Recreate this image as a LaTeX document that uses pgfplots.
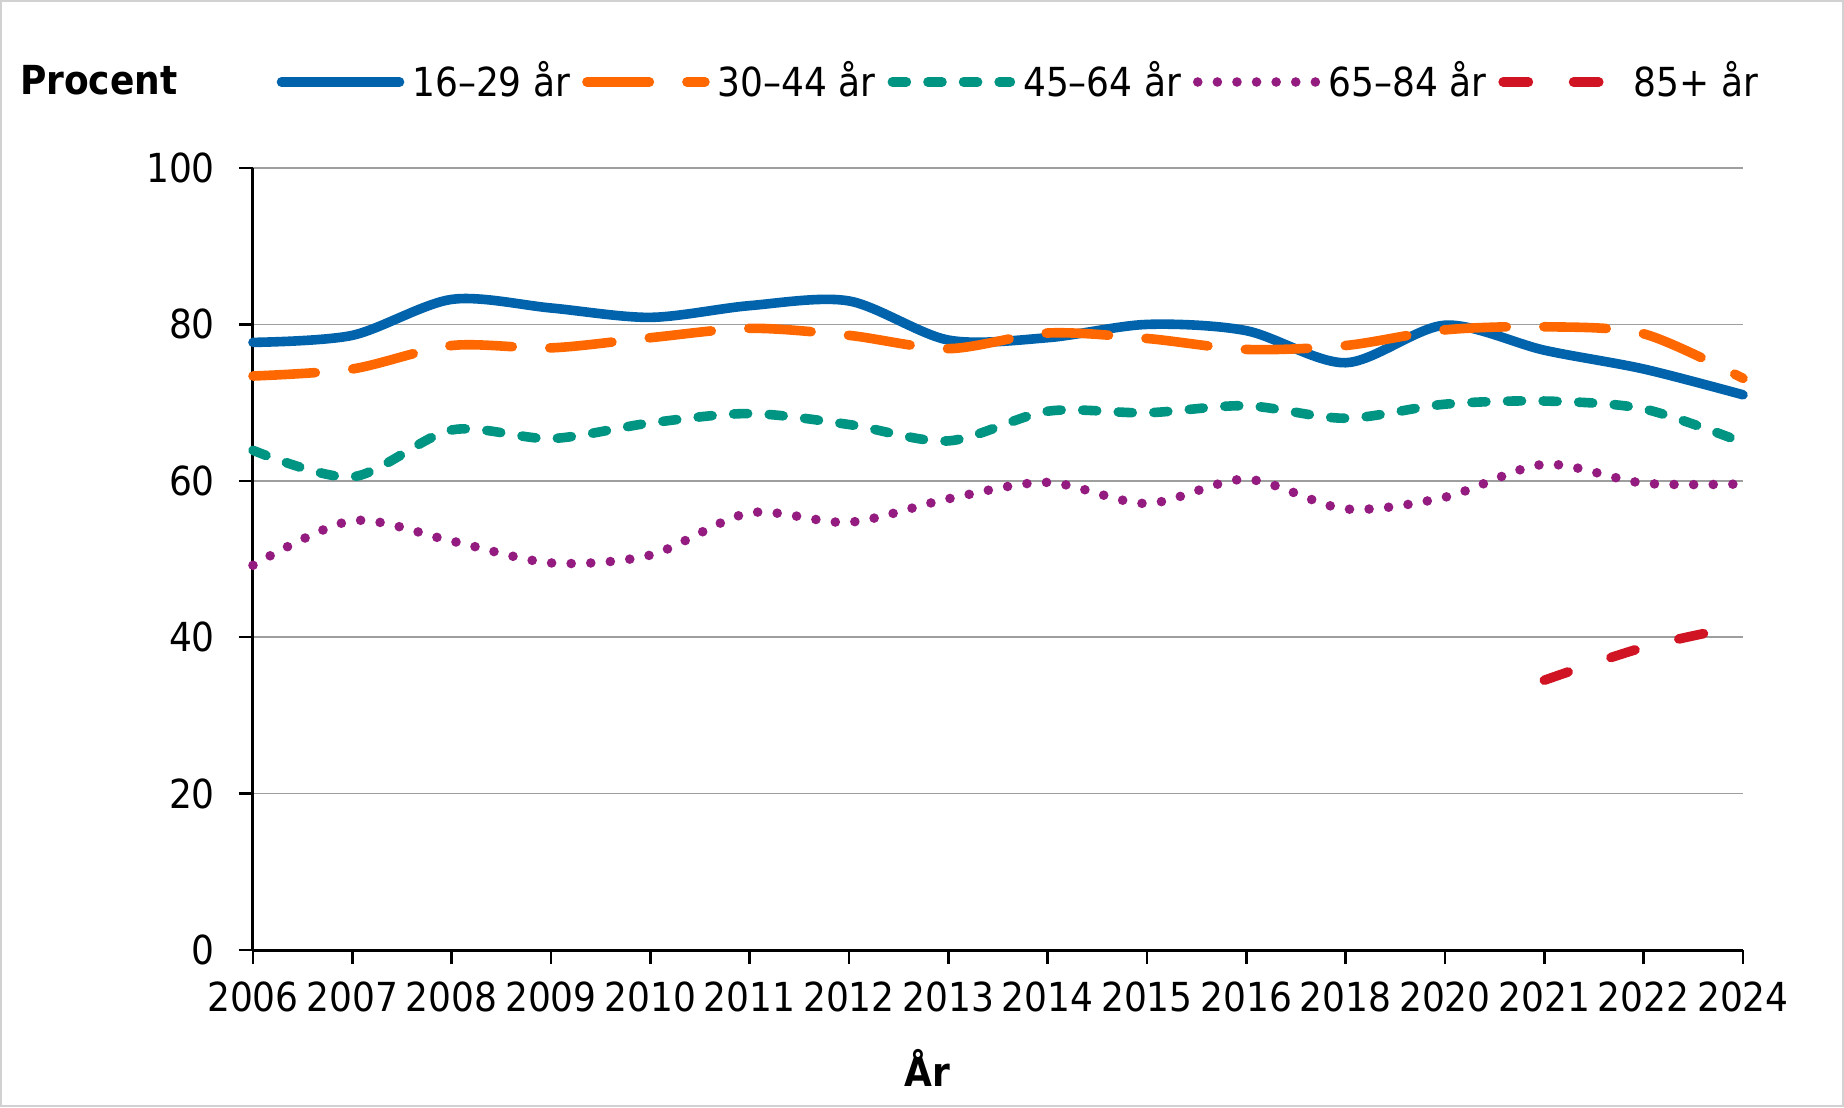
\documentclass[border=0pt]{standalone}
\usepackage{fontspec}
\setmainfont{DejaVu Sans Condensed}
\usepackage{pgfplots}
\pgfplotsset{compat=1.18}

\definecolor{cblue}{RGB}{0,99,171}
\definecolor{corange}{RGB}{255,104,0}
\definecolor{cteal}{RGB}{0,148,130}
\definecolor{cpurple}{RGB}{148,28,128}
\definecolor{cred}{RGB}{208,20,36}

\begin{document}
\begin{tikzpicture}[font=\fontsize{10}{12}\selectfont]
\useasboundingbox (-63.25pt,-39.25pt) rectangle (397.75pt,237.5pt);
\draw[black!18, line width=0.6pt] (-62.95pt,-38.95pt) rectangle (397.45pt,237.2pt);
\begin{axis}[
    at={(0,0)}, anchor=south west,
    scale only axis,
    width=372.5pt, height=195.5pt,
    xmin=0, xmax=15,
    ymin=0, ymax=100,
    axis lines*=left,
    axis line style={line width=0.75pt},
    xtick={0,...,15},
    xticklabels={2006,2007,2008,2009,2010,2011,2012,2013,2014,2015,2016,2018,2020,2021,2022,2024},
    ytick={0,20,40,60,80,100},
    tick align=outside,
    major tick length=3.5pt,
    tick style={black, line width=0.6pt},
    ymajorgrids=true,
    grid style={black!38, line width=0.4pt},
    /pgf/number format/assume math mode=true,
    yticklabel style={xshift=-2.5pt},
    xticklabel style={yshift=-1pt},
    clip=false,
    legend columns=5,
    legend cell align=left,
    legend style={
        draw=none, fill=none,
        at={(axis description cs:0.0154,1.110)}, anchor=west,
        inner sep=0pt,
        /tikz/every odd column/.append style={column sep=0pt},
        /tikz/every even column/.append style={column sep=1pt},
    },
    legend image code/.code={\draw[#1] (0pt,0pt) -- (29.5pt,0pt);},
    every axis plot/.append style={line width=2.4pt, smooth, tension=0.5},
]

\addplot[color=cblue, line cap=round] coordinates {
  (0,77.7)(1,78.6)(2,83.2)(3,82.1)(4,80.9)(5,82.4)(6,83.0)(7,78.0)
  (8,78.3)(9,80.0)(10,79.2)(11,75.1)(12,79.9)(13,76.7)(14,74.3)(15,71.0)
};
\addlegendentry{16–29 år}

\addplot[color=corange, line cap=round, dash pattern=on 15.6pt off 9.4pt] coordinates {
  (0,73.4)(1,74.3)(2,77.3)(3,77.0)(4,78.3)(5,79.5)(6,78.6)(7,76.9)
  (8,78.9)(9,78.2)(10,76.8)(11,77.3)(12,79.3)(13,79.7)(14,78.8)(15,73.1)
};
\addlegendentry{30–44 år}

\addplot[color=cteal, line cap=round, dash pattern=on 3.5pt off 5.4pt] coordinates {
  (0,63.9)(1,60.5)(2,66.5)(3,65.4)(4,67.4)(5,68.6)(6,67.2)(7,65.1)
  (8,68.9)(9,68.7)(10,69.6)(11,68.0)(12,69.8)(13,70.2)(14,69.2)(15,64.9)
};
\addlegendentry{45–64 år}

\addplot[color=cpurple, line cap=round, dash pattern=on 0pt off 4.9pt] coordinates {
  (0,49.2)(1,54.9)(2,52.3)(3,49.5)(4,50.5)(5,55.9)(6,54.7)(7,57.7)
  (8,59.8)(9,57.1)(10,60.2)(11,56.4)(12,57.9)(13,62.1)(14,59.7)(15,59.6)
};
\addlegendentry{65–84 år}

\addplot[color=cred, line cap=round, dash pattern=on 6.3pt off 11.3pt] coordinates {
  (13,34.5)(14,38.7)(15,41.5)
};
\addlegendentry{85+ år}

\end{axis}
\node[anchor=base west, font=\fontsize{10}{12}\selectfont\bfseries] at (-61.75pt,214pt) {Procent};
\node[anchor=base, font=\fontsize{10}{12}\selectfont\bfseries] at (168.5pt,-34pt) {År};
\end{tikzpicture}
\end{document}
